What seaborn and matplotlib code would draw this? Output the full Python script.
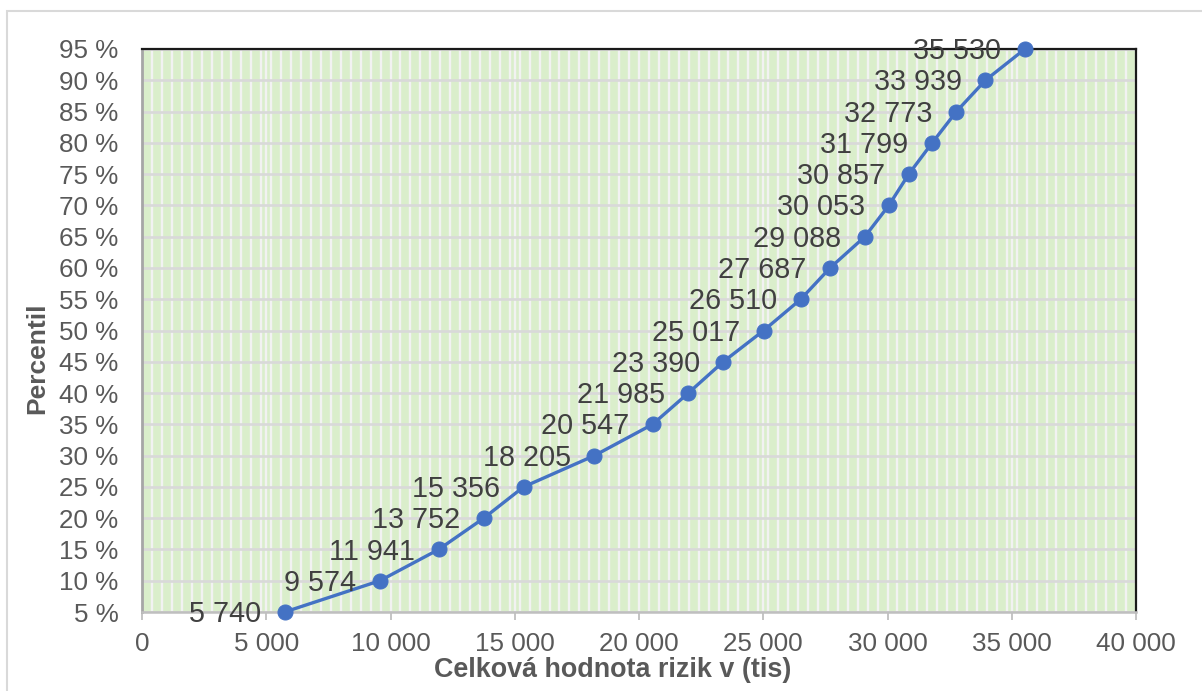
import matplotlib
matplotlib.use("Agg")
import matplotlib.pyplot as plt
from matplotlib.ticker import FixedLocator, MultipleLocator, FuncFormatter
from matplotlib.patches import Rectangle
import seaborn as sns
import pandas as pd

# Percentile curve of the total risk value (thousands)
percentiles = [5, 10, 15, 20, 25, 30, 35, 40, 45, 50, 55, 60, 65, 70, 75, 80, 85, 90, 95]
risk_values = [5740, 9574, 11941, 13752, 15356, 18205, 20547, 21985, 23390, 25017,
               26510, 27687, 29088, 30053, 30857, 31799, 32773, 33939, 35530]
x_ticks = [0, 5000, 10000, 15000, 20000, 25000, 30000, 35000, 40000]
x_title = "Celková hodnota rizik v (tis)"
y_title = "Percentil"

df = pd.DataFrame({"hodnota": risk_values, "percentil": percentiles})

plt.rcParams["font.family"] = ["Liberation Sans", "DejaVu Sans"]

W, H = 1202, 691
fig = plt.figure(figsize=(W / 100, H / 100), dpi=100)
fig.patch.set_facecolor("white")

# outer chart border
fig.patches.append(Rectangle((7 / W, -0.1), 1.2, (H - 11) / H + 0.1,
                             transform=fig.transFigure, fill=False,
                             edgecolor="#D9D9D9", linewidth=1.5, clip_on=False))

left, right, top, bottom = 142, 1136, 49, 612
ax = fig.add_axes([left / W, (H - bottom) / H, (right - left) / W, (bottom - top) / H])
ax.set_facecolor("#DAEECB")

line_color = "#4472C4"
sns.lineplot(data=df, x="hodnota", y="percentil", ax=ax, color=line_color,
             linewidth=2.4, marker="o", markersize=10.8, markeredgecolor=line_color,
             markerfacecolor=line_color, sort=False, clip_on=False, zorder=5)

ax.set_xlim(0, 40000)
ax.set_ylim(5, 95)

ax.xaxis.set_major_locator(FixedLocator(x_ticks))
ax.xaxis.set_minor_locator(MultipleLocator(400))
ax.yaxis.set_major_locator(FixedLocator(percentiles))
ax.xaxis.set_major_formatter(FuncFormatter(lambda v, p: f"{int(v):,}".replace(",", " ")))
ax.yaxis.set_major_formatter(FuncFormatter(lambda v, p: f"{int(v)} %"))

# gridlines: light vertical minor lines, grey horizontal major lines on top
ax.grid(False)
ax.grid(which="minor", axis="x", color="#F2F2F2", linewidth=1.7, zorder=1)
ax.grid(which="major", axis="x", color="#F2F2F2", linewidth=1.7, zorder=1)
ax.grid(which="major", axis="y", color="#D9D9D9", linewidth=1.9, zorder=2)
ax.set_axisbelow(True)

tick_color = "#595959"
ax.tick_params(axis="x", which="major", length=5.5, width=1.3, color="#BFBFBF",
               labelsize=18.7, labelcolor=tick_color, pad=9)
ax.tick_params(axis="x", which="minor", length=0)
ax.tick_params(axis="y", which="major", length=0, labelsize=18.7,
               labelcolor=tick_color, pad=17)

for side in ("top", "right"):
    ax.spines[side].set_color("#1A1A1A")
    ax.spines[side].set_linewidth(1.6)
ax.spines["left"].set_color("#A6A6A6")
ax.spines["left"].set_linewidth(2)
ax.spines["bottom"].set_color("#BFBFBF")
ax.spines["bottom"].set_linewidth(1.8)

# value labels to the left of each point
for xv, yv in zip(risk_values, percentiles):
    ax.annotate(f"{xv:,}".replace(",", " "), (xv, yv), xytext=(-17, -1.5),
                textcoords="offset points", ha="right", va="center",
                fontsize=20.7, color="#404040", zorder=6, annotation_clip=False)

ax.set_xlabel(x_title, fontsize=19.4, fontweight="bold", color=tick_color)
ax.set_ylabel(y_title, fontsize=19, fontweight="bold", color=tick_color)
ax.xaxis.label.set_va("center")
ax.xaxis.set_label_coords((613 - left) / (right - left), (bottom - 670) / (bottom - top))
ax.yaxis.label.set_va("center")
ax.yaxis.label.set_rotation_mode("default")
ax.yaxis.set_label_coords((37 - left) / (right - left), (bottom - 358) / (bottom - top))

fig.savefig("out.png", dpi=100)
